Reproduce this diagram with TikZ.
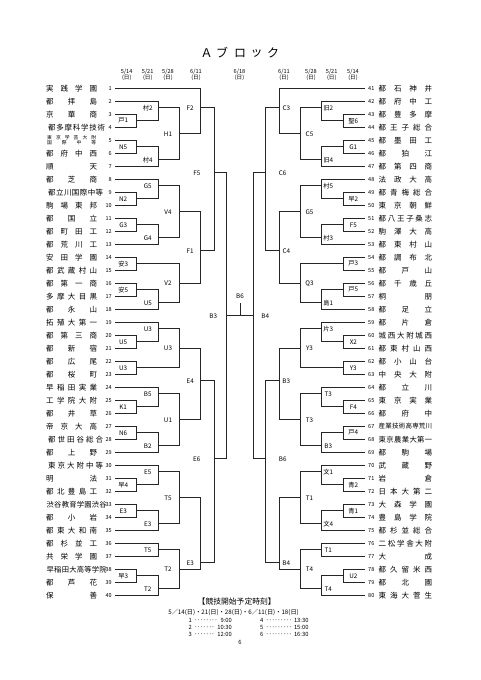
\documentclass[tikz,border=0pt]{standalone}
\usepackage{fontspec}
\setmainfont{Noto Sans CJK JP}
\def\endsprd{ENDSPRD}
\def\sprd#1{\sprdB#1\endsprd}
\def\sprdB#1{#1\sprdA}
\def\sprdA#1{\ifx#1\endsprd\else\hfill#1\expandafter\sprdA\fi}
\def\RY#1{(75.3+13*(#1))}
\def\colA{136.7}\def\colB{158.3}\def\colC{179.5}\def\colD{200.7}\def\colE{214.3}\def\colF{226.7}
\def\offLA{13.5}\def\offLB{10.5}\def\offLC{11.5}\def\offLD{10.5}\def\offLE{17.5}\def\offLF{13.5}
\def\offRA{10}\def\offRB{6.5}\def\offRC{9}\def\offRD{7}\def\offRE{17}\def\offRF{12}
\tikzset{
  br/.style={line width=0.65pt, draw=black!85},
  lab/.style={font=\fontsize{6.3}{7}\selectfont, inner sep=0pt},
  num/.style={font=\fontsize{5.5}{6}\selectfont, inner sep=0pt},
  nm/.style={font=\fontsize{7.5}{8}\selectfont, inner sep=0pt},
  dt/.style={font=\fontsize{5.6}{6}\selectfont, inner sep=0pt},
  ttl/.style={font=\fontsize{12}{13}\selectfont, inner sep=0pt},
  ft/.style={inner sep=0pt},
}
% match: name, column, out row, child1, child2, label
\newcommand\mt[6]{%
  \coordinate (#1) at ({\sx+\sd*\csname col#2\endcsname},{\RY{#3}});
  \draw[br] (#4) -- (#4 -| #1) -- (#5 -| #1) -- (#5);
  \node[lab] (#1t) at ({\sx+\sd*(\csname col#2\endcsname-\csname off\sside#2\endcsname)},{\RY{#3}}) {#6};
}
\newcommand\tL[2]{%
  \coordinate (t#1) at (115,{\RY{#1}});
  \node[num,anchor=east] (n#1) at (112,{\RY{#1}}) {#1};
  \node[nm,anchor=west] (s#1) at (46,{\RY{#1}}) {\hbox to 51pt{\sprd{#2}}};}
\newcommand\tLw[5]{%
  \coordinate (t#1) at (115,{\RY{#1}});
  \node[num,anchor=east] (n#1) at (112,{\RY{#1}}) {#1};
  \node[inner sep=0pt,anchor=west,font=\fontsize{#4}{#4}\selectfont] (s#1) at (#2,{\RY{#1}}) {\hbox to #3pt{\sprd{#5}}};}
\newcommand\tR[2]{%
  \coordinate (t#1) at (365,{\RY{#1-40}});
  \node[num,anchor=west] (n#1) at (368,{\RY{#1-40}}) {#1};
  \node[nm,anchor=west] (s#1) at (378.5,{\RY{#1-40}}) {\hbox to 53.5pt{\sprd{#2}}};}
\newcommand\tRw[3]{%
  \coordinate (t#1) at (365,{\RY{#1-40}});
  \node[num,anchor=west] (n#1) at (368,{\RY{#1-40}}) {#1};
  \node[inner sep=0pt,anchor=west,font=\fontsize{#2}{#2}\selectfont] (s#1) at (378.5,{\RY{#1-40}}) {\hbox to 53.5pt{\sprd{#3}}};}
\begin{document}
\begin{tikzpicture}[x=1pt,y=-1pt]
\fill[white] (0,0) rectangle (481,680);
\useasboundingbox (0,0) rectangle (481,680);
% title
\node[ttl] (h1) at (206.7,53) {Ａ};
\node[ttl] (h2) at (222,53) {ブ};
\node[ttl] (h3) at (240,53) {ロ};
\node[ttl] (h4) at (256.7,53) {ッ};
\node[ttl] (h5) at (273,53) {ク};
% dates
\foreach \dx/\dd [count=\i] in {126.7/5\slash 14,147.7/5\slash 21,168/5\slash 28,196/6\slash 11,239.5/6\slash 18,284/6\slash 11,311/5\slash 28,331.7/5\slash 21,353/5\slash 14}{
  \node[dt] (d\i) at (\dx,71.7) {\dd};
  \node[dt] (w\i) at (\dx,77.9) {(日)};
}
% left teams
\tL{1}{実践学園}
\tL{2}{都拝島}
\tL{3}{京華商}
\tLw{4}{48}{57}{7.5}{都多摩科学技術}
\coordinate (t5) at (115,{\RY{5}});
\node[num,anchor=east] (n5) at (112,{\RY{5}}) {5};
\node[inner sep=0pt,anchor=west,font=\fontsize{4.8}{5}\selectfont,align=left] (s5) at (47,{\RY{5}}) {\hbox to 49pt{\sprd{東京学芸大附}}\\\hbox to 49pt{\sprd{国際中等}}};
\tL{6}{都府中西}
\tL{7}{順天}
\tL{8}{都芝商}
\tLw{9}{48}{55}{7.5}{都立川国際中等}
\tL{10}{駒場東邦}
\tL{11}{都国立}
\tL{12}{都町田工}
\tL{13}{都荒川工}
\tL{14}{安田学園}
\tL{15}{都武蔵村山}
\tL{16}{都第一商}
\tL{17}{多摩大目黒}
\tL{18}{都永山}
\tL{19}{拓殖大第一}
\tL{20}{都第三商}
\tL{21}{都新宿}
\tL{22}{都広尾}
\tL{23}{都桜町}
\tL{24}{早稲田実業}
\tL{25}{工学院大附}
\tL{26}{都井草}
\tL{27}{帝京大高}
\tLw{28}{48}{55}{7.5}{都世田谷総合}
\tL{29}{都上野}
\tLw{30}{48}{55}{7.5}{東京大附中等}
\tL{31}{明法}
\tL{32}{都北豊島工}
\tLw{33}{46.5}{60}{7.3}{渋谷教育学園渋谷}
\tL{34}{都小岩}
\tL{35}{都東大和南}
\tL{36}{都杉並工}
\tL{37}{共栄学園}
\tLw{38}{46.5}{60}{7.3}{早稲田大高等学院}
\tL{39}{都芦花}
\tL{40}{保善}
% right teams
\tR{41}{都石神井}
\tR{42}{都府中工}
\tR{43}{都豊多摩}
\tR{44}{都王子総合}
\tR{45}{都墨田工}
\tR{46}{都狛江}
\tR{47}{都第四商}
\tR{48}{法政大高}
\tR{49}{都青梅総合}
\tR{50}{東京朝鮮}
\tR{51}{都八王子桑志}
\tR{52}{駒澤大高}
\tR{53}{都東村山}
\tR{54}{都調布北}
\tR{55}{都戸山}
\tR{56}{都千歳丘}
\tR{57}{桐朋}
\tR{58}{都足立}
\tR{59}{都片倉}
\tR{60}{城西大附城西}
\tR{61}{都東村山西}
\tR{62}{都小山台}
\tR{63}{中央大附}
\tR{64}{都立川}
\tR{65}{東京実業}
\tR{66}{都府中}
\tRw{67}{6.5}{産業技術高専荒川}
\tRw{68}{7.3}{東京農業大第一}
\tR{69}{都駒場}
\tR{70}{武蔵野}
\tR{71}{岩倉}
\tR{72}{日本大第二}
\tR{73}{大森学園}
\tR{74}{豊島学院}
\tR{75}{都杉並総合}
\tR{76}{二松学舎大附}
\tR{77}{大成}
\tR{78}{都久留米西}
\tR{79}{都北園}
\tR{80}{東海大菅生}
% left bracket
\def\sx{0}\def\sd{1}\def\sside{L}
\mt{La1}{A}{3.5}{t3}{t4}{戸1}
\mt{La2}{B}{2.5}{t2}{La1}{村2}
\mt{La3}{A}{5.5}{t5}{t6}{N5}
\mt{La4}{B}{6.5}{La3}{t7}{村4}
\mt{La5}{C}{4.5}{La2}{La4}{H1}
\mt{La6}{D}{2.5}{t1}{La5}{F2}
\mt{Lb1}{A}{9.5}{t9}{t10}{N2}
\mt{Lb2}{B}{8.5}{t8}{Lb1}{G5}
\mt{Lb3}{A}{11.5}{t11}{t12}{G3}
\mt{Lb4}{B}{12.5}{Lb3}{t13}{G4}
\mt{Lb5}{C}{10.5}{Lb2}{Lb4}{V4}
\mt{Lc1}{A}{14.5}{t14}{t15}{安3}
\mt{Lc2}{A}{16.5}{t16}{t17}{安5}
\mt{Lc3}{B}{17.5}{Lc2}{t18}{U5}
\mt{Lc4}{C}{16}{Lc1}{Lc3}{V2}
\mt{Lf1}{D}{13.5}{Lb5}{Lc4}{F1}
\mt{Lf5}{E}{7.5}{La6}{Lf1}{F5}
\mt{Ld1}{A}{20.5}{t20}{t21}{U5}
\mt{Ld2}{B}{19.5}{t19}{Ld1}{U3}
\mt{Ld3}{A}{22.5}{t22}{t23}{U3}
\mt{Ld4}{C}{21}{Ld2}{Ld3}{U3}
\mt{Ld5}{A}{25.5}{t25}{t26}{K1}
\mt{Ld6}{B}{24.5}{t24}{Ld5}{B5}
\mt{Ld7}{A}{27.5}{t27}{t28}{N6}
\mt{Ld8}{B}{28.5}{Ld7}{t29}{B2}
\mt{Ld9}{C}{26.5}{Ld6}{Ld8}{U1}
\mt{Ld10}{D}{23.5}{Ld4}{Ld9}{E4}
\mt{Le1}{A}{31.5}{t31}{t32}{早4}
\mt{Le2}{B}{30.5}{t30}{Le1}{E5}
\mt{Le3}{A}{33.5}{t33}{t34}{E3}
\mt{Le4}{B}{34.5}{Le3}{t35}{E3}
\mt{Le5}{C}{32.5}{Le2}{Le4}{T5}
\mt{Le6}{B}{36.5}{t36}{t37}{T5}
\mt{Le7}{A}{38.5}{t38}{t39}{早3}
\mt{Le8}{B}{39.5}{Le7}{t40}{T2}
\mt{Le9}{C}{38}{Le6}{Le8}{T2}
\mt{Le10}{D}{37.5}{Le5}{Le9}{E3}
\mt{Le11}{E}{29.5}{Ld10}{Le10}{E6}
\mt{Lg}{F}{18.5}{Lf5}{Le11}{B3}
% right bracket
\def\sx{480}\def\sd{(-1)}\def\sside{R}
\mt{Ra1}{A}{3.5}{t43}{t44}{聖6}
\mt{Ra2}{B}{2.5}{t42}{Ra1}{旧2}
\mt{Ra3}{A}{5.5}{t45}{t46}{G1}
\mt{Ra4}{B}{6.5}{Ra3}{t47}{旧4}
\mt{Ra5}{C}{4.5}{Ra2}{Ra4}{C5}
\mt{Ra6}{D}{2.5}{t41}{Ra5}{C3}
\mt{Rb1}{A}{9.5}{t49}{t50}{早2}
\mt{Rb2}{B}{8.5}{t48}{Rb1}{村5}
\mt{Rb3}{A}{11.5}{t51}{t52}{F5}
\mt{Rb4}{B}{12.5}{Rb3}{t53}{村3}
\mt{Rb5}{C}{10.5}{Rb2}{Rb4}{G5}
\mt{Rc1}{A}{14.5}{t54}{t55}{戸3}
\mt{Rc2}{A}{16.5}{t56}{t57}{戸5}
\mt{Rc3}{B}{17.5}{Rc2}{t58}{島1}
\mt{Rc4}{C}{16}{Rc1}{Rc3}{Q3}
\mt{Rf1}{D}{13.5}{Rb5}{Rc4}{C4}
\mt{Rf5}{E}{7.5}{Ra6}{Rf1}{C6}
\mt{Rd1}{A}{20.5}{t60}{t61}{X2}
\mt{Rd2}{B}{19.5}{t59}{Rd1}{片3}
\mt{Rd3}{A}{22.5}{t62}{t63}{Y3}
\mt{Rd4}{C}{21}{Rd2}{Rd3}{Y3}
\mt{Rd5}{A}{25.5}{t65}{t66}{F4}
\mt{Rd6}{B}{24.5}{t64}{Rd5}{T3}
\mt{Rd7}{A}{27.5}{t67}{t68}{戸4}
\mt{Rd8}{B}{28.5}{Rd7}{t69}{B3}
\mt{Rd9}{C}{26.5}{Rd6}{Rd8}{T3}
\mt{Rd10}{D}{23.5}{Rd4}{Rd9}{B3}
\mt{Re1}{A}{31.5}{t71}{t72}{青2}
\mt{Re2}{B}{30.5}{t70}{Re1}{文1}
\mt{Re3}{A}{33.5}{t73}{t74}{青1}
\mt{Re4}{B}{34.5}{Re3}{t75}{文4}
\mt{Re5}{C}{32.5}{Re2}{Re4}{T1}
\mt{Re6}{B}{36.5}{t76}{t77}{T1}
\mt{Re7}{A}{38.5}{t78}{t79}{U2}
\mt{Re8}{B}{39.5}{Re7}{t80}{T4}
\mt{Re9}{C}{38}{Re6}{Re8}{T4}
\mt{Re10}{D}{37.5}{Re5}{Re9}{B4}
\mt{Re11}{E}{29.5}{Rd10}{Re10}{B6}
\mt{Rg}{F}{18.5}{Rf5}{Re11}{B4}
% final
\coordinate (fm) at (240,{\RY{18.5}});
\coordinate (ftop) at (240,{\RY{17.5}});
\draw[br] (Lg) -- (Rg);
\draw[br] (fm) -- (ftop);
\node[lab] (fB6) at (240,296.7) {B6};
% footer
\node[ft,font=\fontsize{7.8}{8}\selectfont] (k1) at (236.7,601.5) {【競技開始予定時刻】};
\node[ft,font=\fontsize{6.2}{7}\selectfont] (k2) at (239.2,612.7) {\hbox to 141.7pt{5／14(日)・21(日)・28(日)・6／11(日)・18(日)}};
\def\dts{\leaders\hbox to 2.9pt{\hss･\hss}\hfill}
\node[ft,font=\fontsize{5.8}{6}\selectfont,anchor=west] (s1) at (188.3,620.7) {\hbox to 43.4pt{1\dts\ 9:00}};
\node[ft,font=\fontsize{5.8}{6}\selectfont,anchor=west] (s2) at (188.3,627.4) {\hbox to 43.4pt{2\dts 10:30}};
\node[ft,font=\fontsize{5.8}{6}\selectfont,anchor=west] (s3) at (188.3,634.2) {\hbox to 43.4pt{3\dts 12:00}};
\node[ft,font=\fontsize{5.8}{6}\selectfont,anchor=west] (s4) at (260,620.7) {\hbox to 48.3pt{4\dts 13:30}};
\node[ft,font=\fontsize{5.8}{6}\selectfont,anchor=west] (s5f) at (260,627.4) {\hbox to 48.3pt{5\dts 15:00}};
\node[ft,font=\fontsize{5.8}{6}\selectfont,anchor=west] (s6) at (260,634.2) {\hbox to 48.3pt{6\dts 16:30}};
\node[ft,font=\fontsize{5.8}{6}\selectfont] (pg) at (240,642.3) {6};
\end{tikzpicture}
\end{document}
